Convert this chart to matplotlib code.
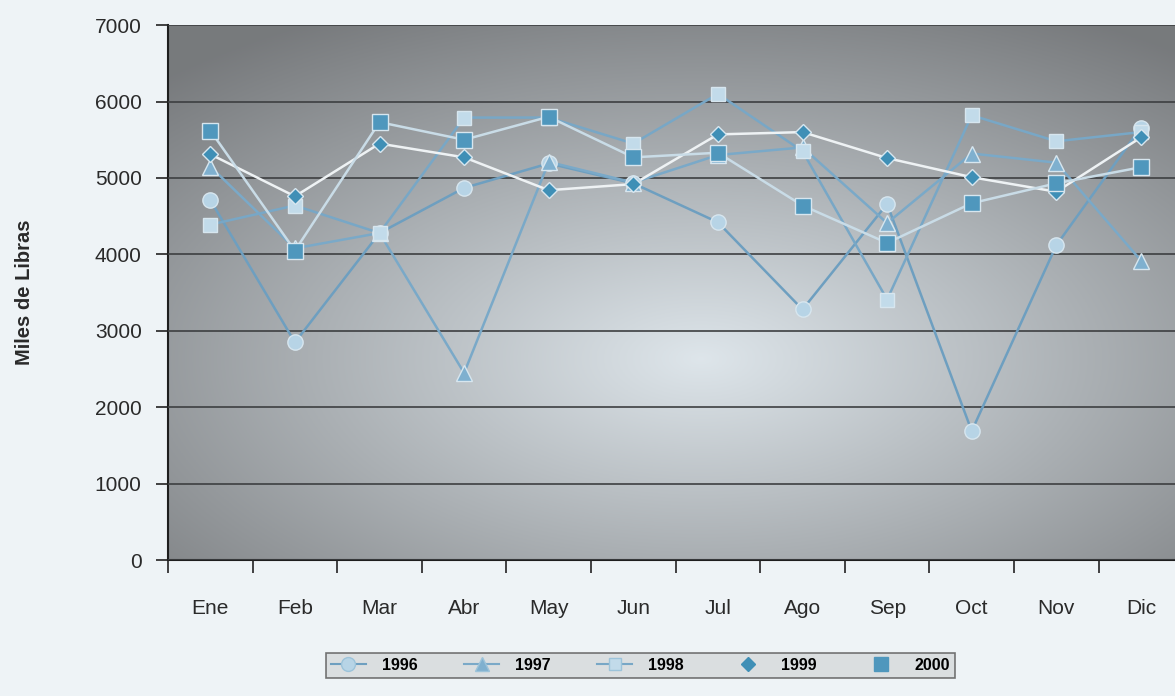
import numpy as np
import matplotlib.pyplot as plt
from matplotlib.lines import Line2D

# data
meses = ["Ene", "Feb", "Mar", "Abr", "May", "Jun", "Jul", "Ago", "Sep", "Oct", "Nov", "Dic"]
y1996 = [4710, 2850, 4280, 4870, 5190, 4930, 4420, 3280, 4660, 1690, 4120, 5660]
y1997 = [5150, 4080, 4280, 2450, 5210, 4940, 5300, 5400, 4410, 5320, 5200, 3920]
y1998 = [4390, 4640, 4280, 5790, 5790, 5450, 6100, 5350, 3410, 5820, 5480, 5600]
y1999 = [5310, 4760, 5450, 5270, 4840, 4920, 5570, 5600, 5260, 5010, 4820, 5530]
y2000 = [5620, 4050, 5730, 5500, 5800, 5270, 5330, 4640, 4150, 4670, 4930, 5140]

plt.rcParams['font.family'] = ['Liberation Sans', 'DejaVu Sans']

fig = plt.figure(figsize=(11.75, 6.96), dpi=100, facecolor="#eef3f6")
ax = fig.add_axes([0.143, 0.195, 0.864, 0.769])

# radial gradient background: light a bit below the middle, gray at the edges
# (imshow row 0 is the top, so positive gy is towards the bottom)
gx, gy = np.meshgrid(np.linspace(-1, 1, 400), np.linspace(-1, 1, 300))
r = np.sqrt(((gx - 0.05) * 0.95) ** 2 + ((gy - 0.25) * 1.0) ** 2)
r = np.clip(r / 1.45, 0, 1)
c0 = np.array([0.87, 0.90, 0.92])
c1 = np.array([0.47, 0.48, 0.49])
img = c0[None, None, :] * (1 - r[..., None]) + c1[None, None, :] * r[..., None]
ax.imshow(img, extent=[0, 1, 0, 1], transform=ax.transAxes, aspect="auto", zorder=0)

x = np.arange(len(meses))
series = [
    ("1996", y1996, "o", "#b7d4e6", "#6e9fc0", 11),
    ("1997", y1997, "^", "#7fb0cf", "#7aa9c8", 11),
    ("1998", y1998, "s", "#c2dbea", "#78a7c6", 10),
    ("1999", y1999, "D", "#3f8fb6", "#eef2f4", 8),
    ("2000", y2000, "s", "#4f97bd", "#c9dce7", 11),
]
handles = []
for name, vals, mk, fc, lc, ms in series:
    ax.plot(x, vals, color=lc, lw=1.8, zorder=3)
    ax.plot(x, vals, ls="none", marker=mk, ms=ms, mfc=fc, mec="#d7e6ef",
            mew=1.0, zorder=4)
    if name in ("1999", "2000"):
        handles.append(Line2D([], [], ls="none", marker=mk, ms=ms - 1, mfc=fc,
                              mec=fc, label=name))
    else:
        handles.append(Line2D([], [], color=lc, lw=1.5, marker=mk, ms=ms - 1,
                              mfc=fc, mec="#9cc3da", label=name))

ax.set_xlim(-0.5, len(meses) - 0.5)
ax.set_ylim(0, 7000)
ax.set_yticks(range(0, 7001, 1000))
ax.yaxis.grid(True, color="#3d3f41", lw=1.2, zorder=1)
ax.set_axisbelow(False)
for gl in ax.get_ygridlines():
    gl.set_zorder(1)

ax.set_xticks(np.arange(-0.5, len(meses) - 0.5, 1))
ax.set_xticklabels([])
ax.set_xticks(x, minor=True)
ax.set_xticklabels(meses, minor=True)
ax.tick_params(axis="x", which="major", length=9, width=1.2, color="#222222",
               direction="out")
ax.tick_params(axis="x", which="minor", length=0, pad=28, labelsize=15,
               labelcolor="#2a2a2a")
ax.tick_params(axis="y", length=9, width=1.2, color="#222222", labelsize=15,
               labelcolor="#2a2a2a", pad=10)

for s in ("top", "right"):
    ax.spines[s].set_visible(False)
ax.spines["left"].set_color("#1e1e1e")
ax.spines["left"].set_linewidth(1.5)
ax.spines["bottom"].set_color("#1e1e1e")
ax.spines["bottom"].set_linewidth(1.5)

ax.set_ylabel("Miles de Libras", fontsize=14.5, fontweight="bold", color="#2a2a2a",
              labelpad=44)

leg = fig.legend(handles=handles, loc="center", bbox_to_anchor=(0.545, 0.044),
                 ncol=5, frameon=True, prop={"weight": "bold", "size": 11.5},
                 handlelength=2.2, columnspacing=2.9, borderpad=0.3,
                 handletextpad=1.0, fancybox=False)
leg.get_frame().set_facecolor("#d6d9db")
leg.get_frame().set_edgecolor("#555555")
leg.get_frame().set_linewidth(1.2)

fig.savefig("out.png", dpi=100, facecolor=fig.get_facecolor())
